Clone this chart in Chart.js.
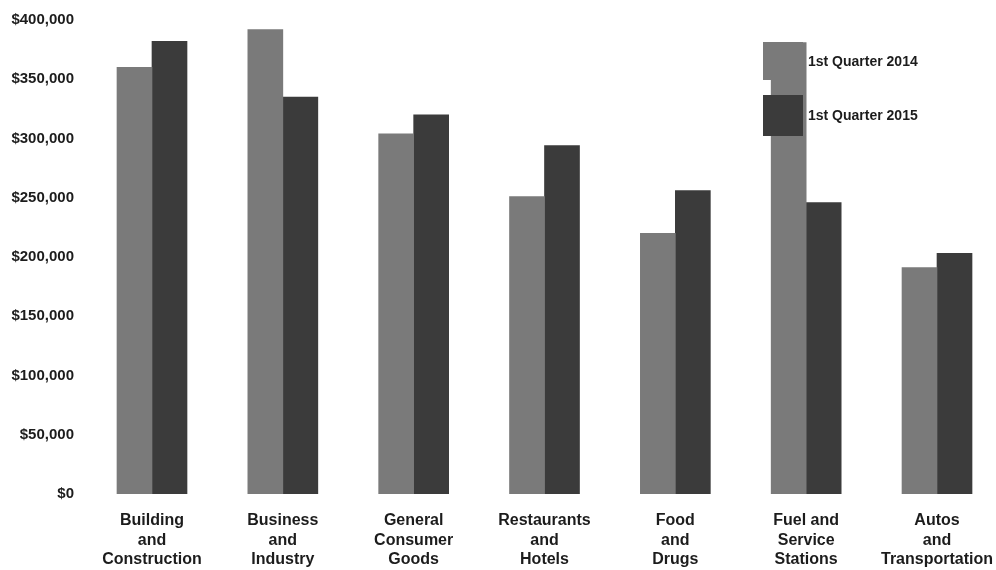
<!DOCTYPE html>
<html>
<head>
<meta charset="utf-8">
<title>Sales by Business Group, 1st Quarter 2014 vs 2015</title>
<script src="https://cdn.jsdelivr.net/npm/chart.js@4/dist/chart.umd.min.js"></script>
<style>
  html, body { margin: 0; padding: 0; background: #ffffff; overflow: hidden; }
  #wrap { position: relative; width: 996px; height: 570px; }
</style>
</head>
<body>
<div id="wrap"><canvas id="chart" width="996" height="570"></canvas></div>
<script>
// Business groups (one per column group), split into label lines
const categories = [
  ['Building', 'and', 'Construction'],
  ['Business', 'and', 'Industry'],
  ['General', 'Consumer', 'Goods'],
  ['Restaurants', 'and', 'Hotels'],
  ['Food', 'and', 'Drugs'],
  ['Fuel and', 'Service', 'Stations'],
  ['Autos', 'and', 'Transportation']
];

// Dollar amounts per group
const q1_2014 = [360000, 392000, 304000, 251000, 220000, 381000, 191000];
const q1_2015 = [382000, 335000, 320000, 294000, 256000, 246000, 203000];

const seriesLabels = ['1st Quarter 2014', '1st Quarter 2015'];

// Value axis ticks
const yTicks = [0, 50000, 100000, 150000, 200000, 250000, 300000, 350000, 400000];

const LIGHT = '#7a7a7a';
const DARK = '#3b3b3b';
const INK = '#1c1c1c';
const FONT = '"Liberation Sans", Arial, sans-serif';

const toPoints = vals => vals.map((v, i) => ({ x: i, y: v }));

// Legend: two stacked swatches with their labels, top right of the plot
const stackedLegend = {
  id: 'stackedLegend',
  afterDatasetsDraw(chart) {
    const ctx = chart.ctx;
    const boxes = [
      { x: 763, y: 42, w: 40, h: 38 },
      { x: 763, y: 95, w: 40, h: 41 }
    ];
    ctx.save();
    chart.data.datasets.forEach((ds, i) => {
      const b = boxes[i];
      ctx.fillStyle = ds.backgroundColor;
      ctx.fillRect(b.x, b.y, b.w, b.h);
      ctx.fillStyle = INK;
      ctx.font = 'bold 14px ' + FONT;
      ctx.textAlign = 'left';
      ctx.textBaseline = 'middle';
      ctx.fillText(ds.label, b.x + b.w + 5, b.y + b.h / 2 + 1);
    });
    ctx.restore();
  }
};

new Chart(document.getElementById('chart'), {
  type: 'bar',
  data: {
    datasets: [
      { label: seriesLabels[0], data: toPoints(q1_2014), backgroundColor: LIGHT, borderWidth: 0 },
      { label: seriesLabels[1], data: toPoints(q1_2015), backgroundColor: DARK, borderWidth: 0 }
    ]
  },
  options: {
    responsive: false,
    animation: false,
    events: [],
    layout: { padding: { top: 20, right: 6, left: 0, bottom: 0 } },
    datasets: { bar: { barThickness: 35 } },
    plugins: {
      legend: { display: false },
      tooltip: { enabled: false }
    },
    scales: {
      x: {
        type: 'linear',
        offset: false,
        min: -0.5503,
        max: 6.405,
        grid: { display: false, drawTicks: false, offset: false },
        border: { display: false },
        afterFit(scale) {
          scale.height = 76;
          scale.paddingLeft = 0;
          scale.paddingRight = 0;
        },
        afterBuildTicks(scale) {
          scale.ticks = categories.map((_, i) => ({ value: i }));
        },
        ticks: {
          autoSkip: false,
          maxRotation: 0,
          padding: 17,
          color: INK,
          font: { family: FONT, size: 16, weight: 'bold', lineHeight: 1.22 },
          callback: (v) => categories[v]
        }
      },
      y: {
        min: 0,
        max: 400000,
        grid: { display: false, drawTicks: false },
        border: { display: false },
        afterFit(scale) { scale.width = 80; },
        afterBuildTicks(scale) {
          scale.ticks = yTicks.map(v => ({ value: v }));
        },
        ticks: {
          padding: 6,
          color: INK,
          font: { family: FONT, size: 15, weight: 'bold' },
          callback: (v) => '$' + Number(v).toLocaleString('en-US')
        }
      }
    }
  },
  plugins: [stackedLegend]
});
</script>
</body>
</html>
